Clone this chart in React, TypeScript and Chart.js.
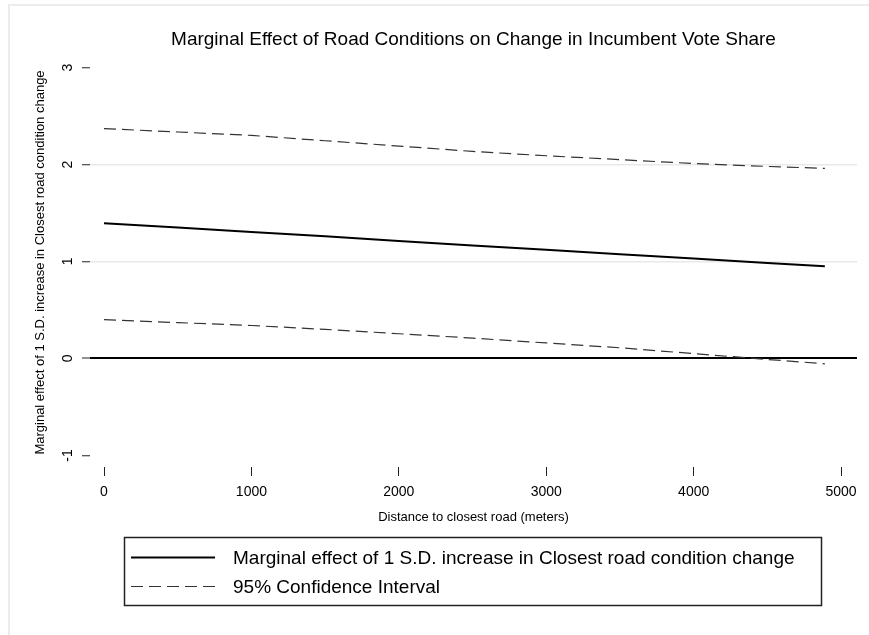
import React, { useEffect, useRef } from 'react';
import { Chart, registerables } from 'chart.js';

Chart.register(...registerables);

// ---- data ----
const distance = [0, 500, 1000, 1500, 2000, 2500, 3000, 3500, 4000, 4500, 4890];
const marginalEffect = [1.395, 1.35, 1.305, 1.26, 1.21, 1.165, 1.12, 1.075, 1.03, 0.985, 0.95];
const upperCI = [2.37, 2.335, 2.3, 2.245, 2.19, 2.135, 2.09, 2.05, 2.01, 1.98, 1.96];
const lowerCI = [0.4, 0.37, 0.34, 0.3, 0.255, 0.21, 0.16, 0.11, 0.05, -0.01, -0.055];
const xTicks = [0, 1000, 2000, 3000, 4000, 5000];
const yTicks = [-1, 0, 1, 2, 3];
const yGridLines = [1, 2];
const yZeroLine = 0;

const chartTitle = 'Marginal Effect of Road Conditions on Change in Incumbent Vote Share';
const xAxisTitle = 'Distance to closest road (meters)';
const yAxisTitle = 'Marginal effect of 1 S.D. increase in Closest road condition change';
const seriesLabels = [
  'Marginal effect of 1 S.D. increase in Closest road condition change',
  '95% Confidence Interval',
];

const FONT = '"Liberation Sans", Arial, Helvetica, sans-serif';

const toPoints = (ys: number[]) => distance.map((x, i) => ({ x, y: ys[i] }));

const decorPlugin = {
  id: 'stataDecor',
  afterDraw(chart: any) {
    const { ctx } = chart;
    const yScale = chart.scales.y;
    // rotated y tick labels
    ctx.save();
    ctx.fillStyle = '#000';
    ctx.font = `14px ${FONT}`;
    ctx.textAlign = 'center';
    ctx.textBaseline = 'middle';
    yTicks.forEach((v) => {
      const py = yScale.getPixelForValue(v);
      ctx.save();
      ctx.translate(68, py);
      ctx.rotate(-Math.PI / 2);
      ctx.fillText(String(v), 0, 0);
      ctx.restore();
    });
    ctx.restore();

    // legend box
    const bx = 124.5, by = 537.5, bw = 697, bh = 68;
    ctx.save();
    ctx.strokeStyle = '#222';
    ctx.lineWidth = 1.5;
    ctx.strokeRect(bx, by, bw, bh);
    const seen: string[] = [];
    const items: any[] = [];
    chart.data.datasets.forEach((ds: any) => {
      if (ds.label && !seen.includes(ds.label)) {
        seen.push(ds.label);
        items.push(ds);
      }
    });
    items.forEach((ds: any, i: number) => {
      const ly = 557.5 + i * 29;
      ctx.beginPath();
      ctx.setLineDash(ds.borderDash || []);
      ctx.strokeStyle = ds.borderColor;
      ctx.lineWidth = ds.borderWidth;
      ctx.moveTo(131, ly);
      ctx.lineTo(215, ly);
      ctx.stroke();
      ctx.setLineDash([]);
      ctx.fillStyle = '#000';
      ctx.font = `19px ${FONT}`;
      ctx.textAlign = 'left';
      ctx.textBaseline = 'middle';
      ctx.fillText(ds.label, 233, ly + 1);
    });
    ctx.restore();
  },
};

export default function App() {
  const canvasRef = useRef<HTMLCanvasElement | null>(null);

  useEffect(() => {
    if (!canvasRef.current) return;
    const chart = new Chart(canvasRef.current, {
      type: 'line',
      data: {
        datasets: [
          {
            label: seriesLabels[0],
            data: toPoints(marginalEffect),
            borderColor: '#000',
            borderWidth: 2,
            pointRadius: 0,
            tension: 0,
          },
          {
            label: seriesLabels[1],
            data: toPoints(upperCI),
            borderColor: '#333',
            borderWidth: 1.2,
            borderDash: [12, 6],
            pointRadius: 0,
            tension: 0,
          },
          {
            label: seriesLabels[1],
            data: toPoints(lowerCI),
            borderColor: '#333',
            borderWidth: 1.2,
            borderDash: [12, 6],
            pointRadius: 0,
            tension: 0,
          },
        ],
      },
      options: {
        responsive: false,
        animation: false,
        layout: { padding: { top: 0, left: 0, right: 12, bottom: 0 } },
        plugins: {
          legend: { display: false },
          tooltip: { enabled: false },
          title: {
            display: true,
            text: chartTitle,
            color: '#000',
            fullSize: false,
            font: { size: 19, family: FONT, weight: 'normal' },
            padding: { top: 28.6, bottom: 6.6 },
          },
        },
        scales: {
          x: {
            type: 'linear',
            min: -95,
            max: 5108,
            afterBuildTicks: (scale: any) => {
              scale.ticks = xTicks.map((v) => ({ value: v }));
            },
            afterFit: (scale: any) => {
              scale.height = 168;
            },
            border: { display: false },
            grid: {
              drawOnChartArea: false,
              drawTicks: true,
              tickLength: 9,
              tickColor: '#222',
              tickWidth: 1,
            },
            ticks: {
              color: '#000',
              font: { size: 14, family: FONT },
              padding: 8,
              maxRotation: 0,
              callback: (v: any) => String(v),
            },
            title: {
              display: true,
              text: xAxisTitle,
              color: '#000',
              font: { size: 13, family: FONT },
              padding: { top: 0, bottom: 110.2 },
            },
          },
          y: {
            type: 'linear',
            min: -1.119,
            max: 3.098,
            afterBuildTicks: (scale: any) => {
              scale.ticks = yTicks.map((v) => ({ value: v }));
            },
            afterFit: (scale: any) => {
              scale.width = 90;
            },
            border: { display: false },
            grid: {
              drawTicks: true,
              tickLength: 8,
              tickColor: '#222',
              tickWidth: 1,
              color: (c: any) => {
                const v = c.tick && c.tick.value;
                if (v === yZeroLine) return '#000';
                if (yGridLines.includes(v)) return '#e9e9e9';
                return 'rgba(0,0,0,0)';
              },
              lineWidth: (c: any) => {
                const v = c.tick && c.tick.value;
                if (v === yZeroLine) return 2;
                return 1.5;
              },
            },
            ticks: { display: false },
            title: {
              display: true,
              text: yAxisTitle,
              color: '#000',
              font: { size: 13, family: FONT },
              padding: { top: 32.2, bottom: 0 },
            },
          },
        },
      },
      plugins: [decorPlugin],
    } as any);
    return () => chart.destroy();
  }, []);

  return (
    <div
      style={{
        position: 'fixed',
        left: 0,
        top: 0,
        width: 869,
        height: 635,
        background: '#fff',
        overflow: 'hidden',
      }}
    >
      <div
        style={{
          position: 'absolute',
          left: 8,
          top: 4,
          width: 900,
          height: 700,
          borderTop: '2px solid #ececec',
          borderLeft: '2px solid #ececec',
        }}
      />
      <canvas
        ref={canvasRef}
        width={869}
        height={635}
        style={{ position: 'absolute', left: 0, top: 0, width: 869, height: 635 }}
      />
    </div>
  );
}
